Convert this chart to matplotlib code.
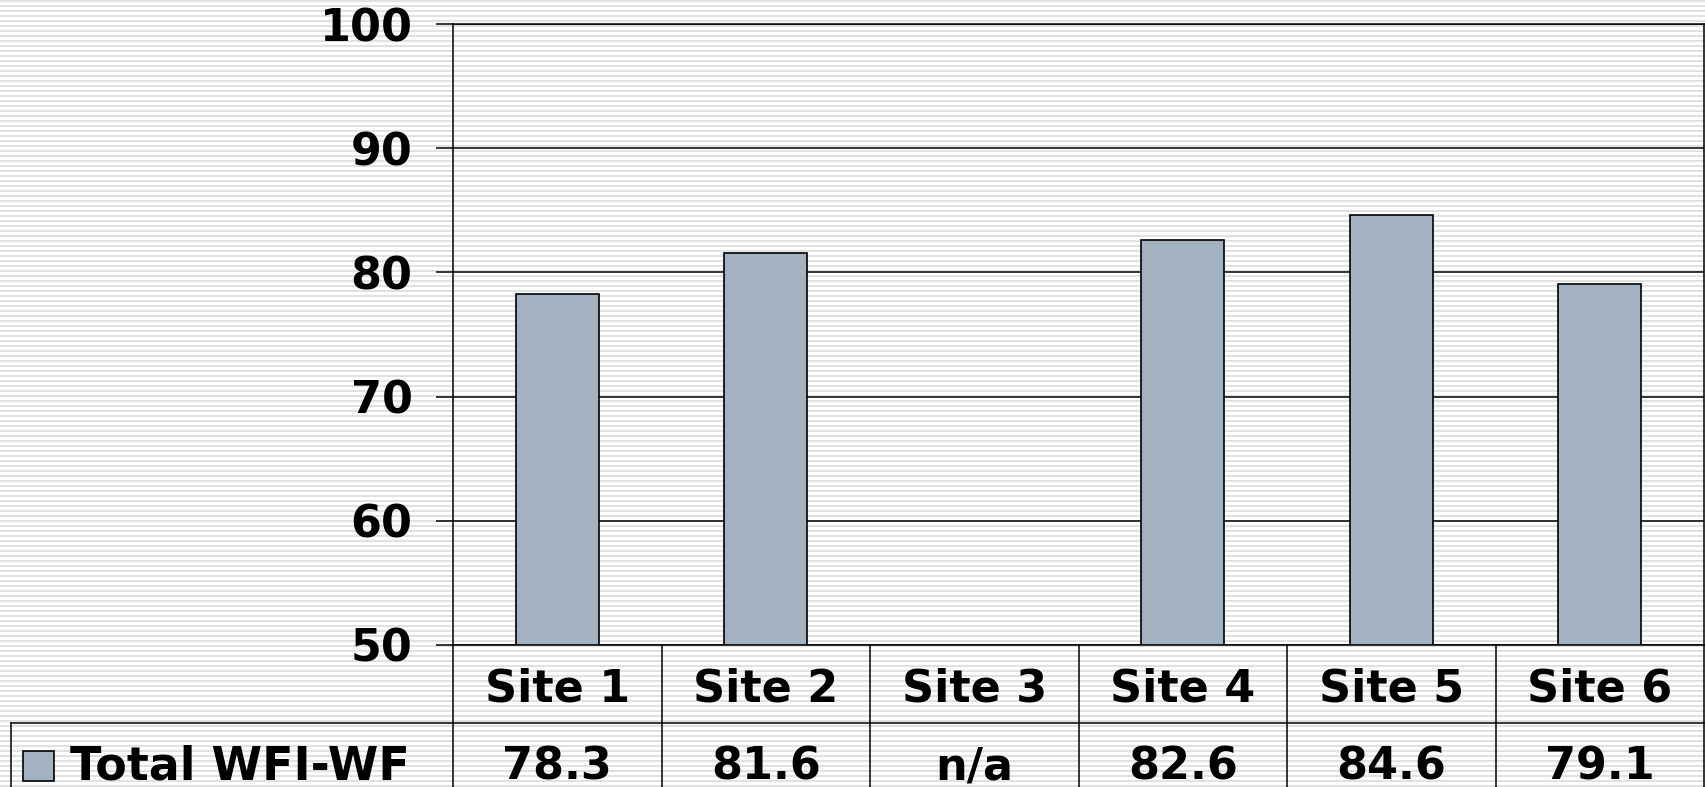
import matplotlib
matplotlib.use('Agg')
import matplotlib.pyplot as plt
import numpy as np
from matplotlib.patches import Rectangle

sites = ['Site 1', 'Site 2', 'Site 3', 'Site 4', 'Site 5', 'Site 6']
wfi_wf = [78.3, 81.6, None, 82.6, 84.6, 79.1]
series_name = 'Total WFI-WF'
yticks = [50, 60, 70, 80, 90, 100]

W, H = 1705, 787
bar_col = '#a3b2c1'
font = dict(family='DejaVu Sans', weight='bold', size=32)

fig = plt.figure(figsize=(W / 100, H / 100), dpi=100)

# striped background over the whole picture
bg = fig.add_axes([0, 0, 1, 1], zorder=-10)
rows = np.arange(H) % 5
stripe = np.where(rows < 2, 0.88, 1.0)[:, None]
bg.imshow(stripe, cmap='gray', vmin=0, vmax=1, aspect='auto', interpolation='nearest')
bg.axis('off')

# plot area in pixels
left, right, top, bottom = 453, 1704, 24, 645
ax = fig.add_axes([left / W, 1 - bottom / H, (right - left) / W, (bottom - top) / H])
ax.patch.set_alpha(0)

vals = np.array([np.nan if v is None else v for v in wfi_wf])
x = np.arange(len(sites)) + 0.5
ax.bar(x, vals - 50, bottom=50, width=0.4, color=bar_col, edgecolor='black', linewidth=1.2, zorder=3)

ax.set_xlim(0, len(sites))
ax.set_ylim(50, 100)
ax.set_yticks(yticks)
ax.set_yticklabels([str(t) for t in yticks], fontdict=font)
ax.tick_params(axis='y', length=12, width=1.1, pad=17, direction='out')
ax.set_xticks([])
ax.yaxis.grid(True, color='black', linewidth=1.1)
ax.set_axisbelow(True)
for s in ax.spines.values():
    s.set_linewidth(1.1)

# data table under the plot
ph = bottom - top            # axes height in px
upx = (right - left) / len(sites)   # px per category
row_h = 78 / ph
tr = ax.get_xaxis_transform()
kw = dict(color='black', linewidth=1.1, transform=tr, clip_on=False)

for i in range(len(sites) + 1):
    ax.plot([i, i], [0, -3 * row_h], **kw)
x_leg = (11 - left) / upx
ax.plot([x_leg, len(sites)], [-row_h, -row_h], **kw)
ax.plot([x_leg, x_leg], [-row_h, -3 * row_h], **kw)

shift = 5 / ph
for xi, s, v in zip(x, sites, vals):
    ax.text(xi, -row_h / 2 - shift, s, transform=tr, ha='center', va='center', fontdict=font)
    lab = 'n/a' if np.isnan(v) else f'{v:.1f}'
    ax.text(xi, -1.5 * row_h - shift, lab, transform=tr, ha='center', va='center', fontdict=font)

sw_x0 = (23 - left) / upx
sw_w = 31 / upx
sw_y0 = (bottom - 781) / ph
sw_h = 30 / ph
ax.add_patch(Rectangle((sw_x0, sw_y0), sw_w, sw_h, transform=tr, clip_on=False,
                       facecolor=bar_col, edgecolor='black', linewidth=1.2))
ax.text((70 - left) / upx, -1.5 * row_h - shift, series_name, transform=tr, ha='left', va='center',
        fontdict=dict(font, size=33))

fig.savefig('out.png', dpi=100)
